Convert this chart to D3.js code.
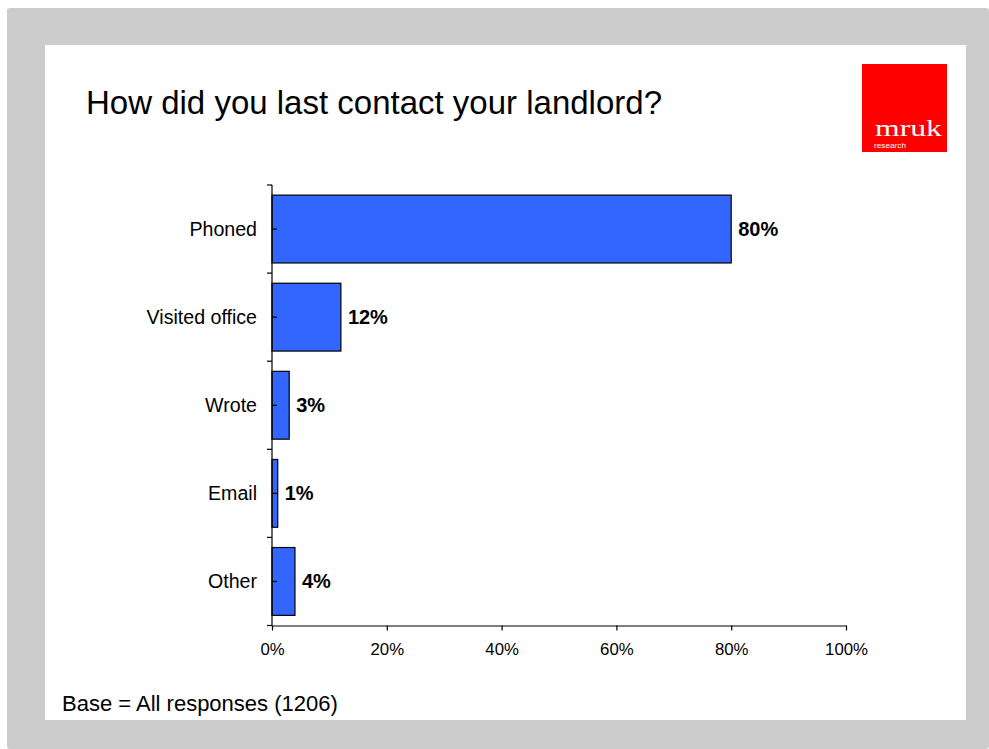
<!DOCTYPE html>
<html>
<head>
<meta charset="utf-8">
<script src="https://cdn.jsdelivr.net/npm/d3@7"></script>
<style>
  html, body { margin: 0; padding: 0; background: #ffffff; }
  svg { display: block; font-family: "Liberation Sans", Arial, sans-serif; }
</style>
</head>
<body>
<svg id="chart" width="989" height="749"></svg>
<script>
// Survey answers: how respondents last contacted their landlord
const categories = ["Phoned", "Visited office", "Wrote", "Email", "Other"];
const values = [80, 12, 3, 1, 4];
const xTicks = [0, 20, 40, 60, 80, 100];
const titleText = "How did you last contact your landlord?";
const baseText = "Base = All responses (1206)";

const svg = d3.select("#chart");

// slide frame: grey surround with white content panel
svg.append("rect").attr("x", 7).attr("y", 8).attr("width", 982).attr("height", 741)
  .attr("rx", 3).attr("fill", "#cccccc");
svg.append("rect").attr("x", 45).attr("y", 45).attr("width", 921).attr("height", 675)
  .attr("fill", "#ffffff");

// title
svg.append("text").attr("x", 86).attr("y", 114)
  .attr("font-size", 33).attr("fill", "#000").text(titleText);

// logo
const logo = svg.append("g");
logo.append("rect").attr("x", 862).attr("y", 64).attr("width", 85).attr("height", 88).attr("fill", "#ff0000");
logo.append("text").attr("x", 875).attr("y", 136)
  .attr("font-family", "'Liberation Serif', 'DejaVu Serif', serif")
  .attr("font-size", 24).attr("fill", "#fff")
  .attr("textLength", 67).attr("lengthAdjust", "spacingAndGlyphs").text("mruk");
logo.append("text").attr("x", 874).attr("y", 148)
  .attr("font-size", 8).attr("fill", "#fff")
  .attr("textLength", 32).attr("lengthAdjust", "spacingAndGlyphs").text("research");

// scales
const x = d3.scaleLinear().domain([0, 100]).range([272, 846]);
const y = d3.scaleBand().domain(categories).range([185, 625.5])
  .paddingInner(0.23).paddingOuter(0.115);
const step = y.step();

// bars
svg.append("g").selectAll("rect").data(categories).join("rect")
  .attr("x", x(0))
  .attr("y", d => y(d))
  .attr("width", (d, i) => x(values[i]) - x(0))
  .attr("height", y.bandwidth())
  .attr("fill", "#3366ff")
  .attr("stroke", "#000").attr("stroke-width", 1.2);

// value labels
svg.append("g").selectAll("text").data(categories).join("text")
  .attr("x", (d, i) => x(values[i]) + 7)
  .attr("y", d => y(d) + y.bandwidth() / 2)
  .attr("dy", "0.35em")
  .attr("font-size", 20).attr("font-weight", "bold").attr("fill", "#000")
  .text((d, i) => values[i] + "%");

// category axis: line, outside ticks at band boundaries, inside ticks at centres
const yAxisG = svg.append("g").attr("stroke", "#000").attr("stroke-width", 1.2);
yAxisG.append("line").attr("x1", x(0)).attr("x2", x(0)).attr("y1", 185).attr("y2", 625.5);
d3.range(categories.length + 1).forEach(k => {
  const yy = 185 + k * step;
  yAxisG.append("line").attr("x1", x(0) - 5).attr("x2", x(0)).attr("y1", yy).attr("y2", yy);
});
categories.forEach(c => {
  const yy = y(c) + y.bandwidth() / 2;
  yAxisG.append("line").attr("x1", x(0)).attr("x2", x(0) + 5).attr("y1", yy).attr("y2", yy);
});

svg.append("g").selectAll("text").data(categories).join("text")
  .attr("x", 257)
  .attr("y", d => y(d) + y.bandwidth() / 2)
  .attr("dy", "0.35em")
  .attr("text-anchor", "end")
  .attr("font-size", 19.6).attr("fill", "#000")
  .text(d => d);

// value axis
const xAxis = d3.axisBottom(x).tickValues(xTicks).tickSize(5).tickSizeOuter(0)
  .tickFormat(d => d + "%");
const xg = svg.append("g").attr("transform", "translate(0,625.5)").call(xAxis);
xg.select(".domain").attr("stroke", "#000").attr("stroke-width", 1.2);
xg.selectAll(".tick line").attr("stroke", "#000").attr("stroke-width", 1.2);
xg.selectAll(".tick text").attr("font-size", 16.8).attr("fill", "#000")
  .attr("font-family", "'Liberation Sans', Arial, sans-serif")
  .attr("y", 18).attr("dy", "0.71em");

// base note
svg.append("text").attr("x", 62).attr("y", 711)
  .attr("font-size", 22).attr("fill", "#000").text(baseText);
</script>
</body>
</html>
